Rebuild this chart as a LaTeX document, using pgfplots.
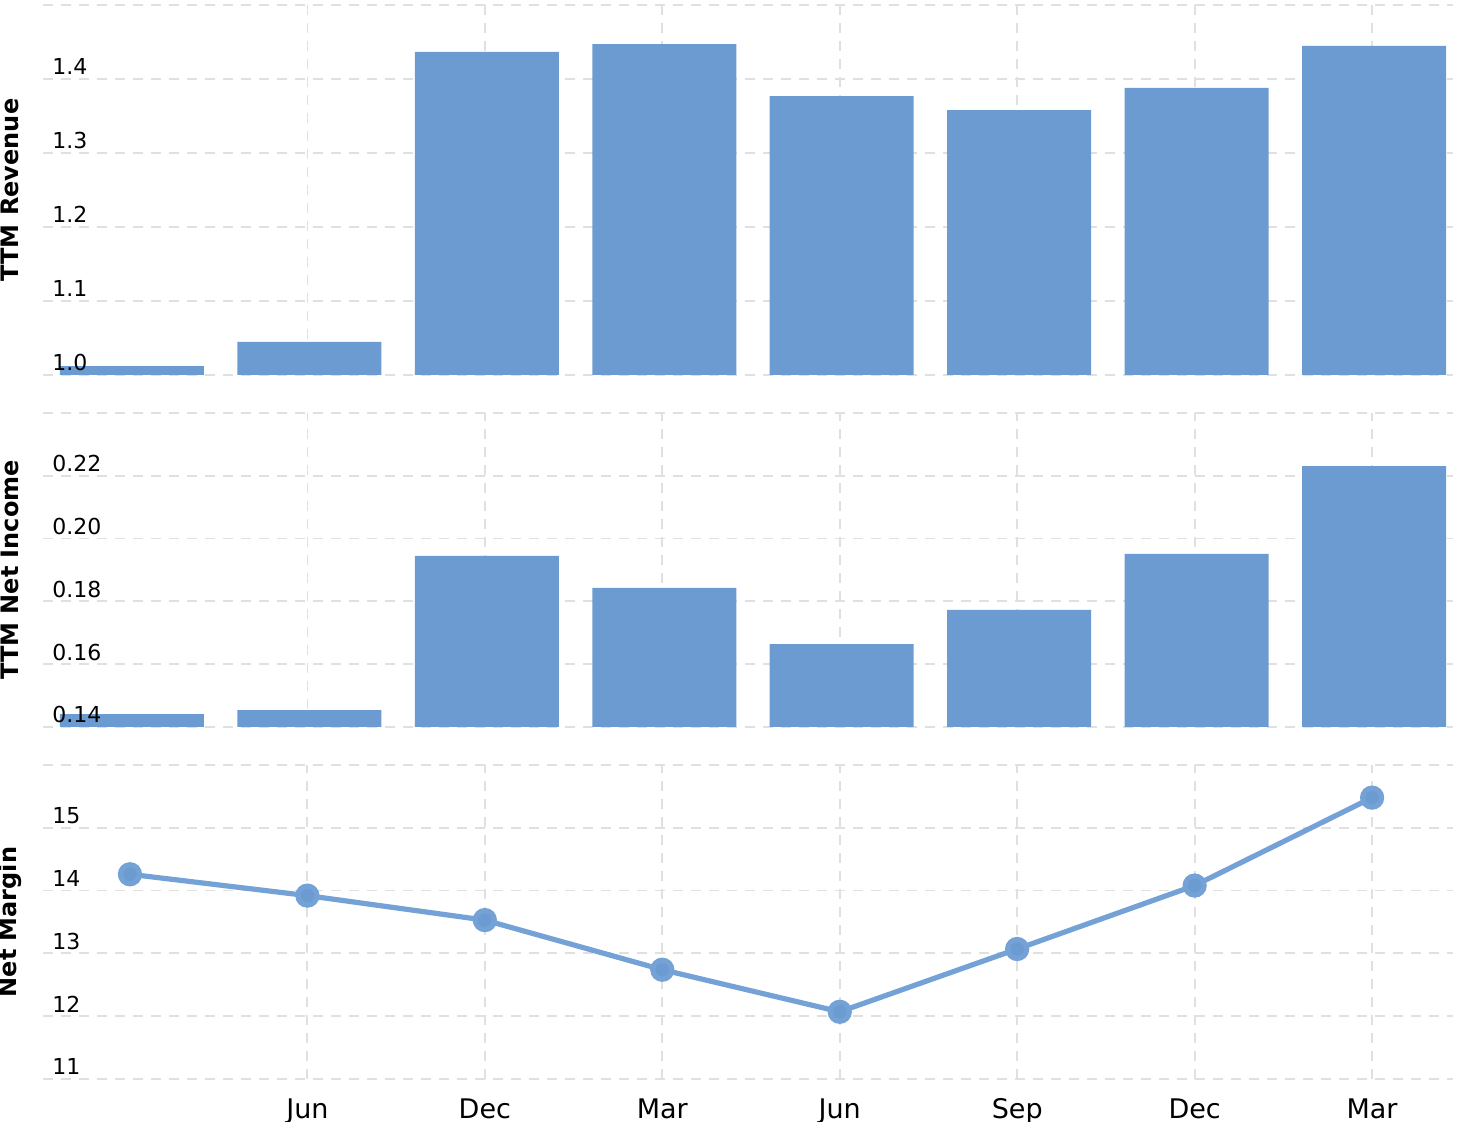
\documentclass[border=0pt]{standalone}
\usepackage{pgfplots}
\pgfplotsset{compat=1.18}
\usepackage{fontspec}
\setmainfont{DejaVu Sans}
\definecolor{barblue}{HTML}{6B9BD0}
\definecolor{lineblue}{HTML}{74A2D6}
\definecolor{gridgray}{HTML}{E0E0E0}
\pgfplotsset{
 panel/.style={
  scale only axis, width=705pt,
  xmin=-0.49, xmax=7.456,
  axis line style={draw=none},
  major tick length=0pt,
  xtick={1,...,7},
  grid=major,
  major grid style={gridgray, line width=0.9pt, dash pattern=on 5pt off 4pt},
  yticklabel style={anchor=base west, inner sep=0pt, xshift=4.5pt, yshift=2pt, font=\fontsize{11}{13}\selectfont},
  /pgf/number format/assume math mode=true,
  every axis y label/.style={at={(axis description cs:-0.0234,0.5)}, anchor=center, rotate=90, font=\fontsize{12}{14}\selectfont\bfseries},
 },
 bottomlabel/.style={extra description/.code={
   \node[anchor=base west, inner sep=0pt, xshift=4.5pt, yshift=2pt, font=\fontsize{11}{13}\selectfont] at (rel axis cs:0,0) {#1};}},
}
\begin{document}
\begin{tikzpicture}
% Top panel: TTM Revenue
\begin{axis}[panel, at={(21.5pt,373.5pt)}, anchor=south west, height=185pt,
  ymin=1, ymax=1.5, ytick={1,1.1,1.2,1.3,1.4,1.5},
  yticklabels={{},1.1,1.2,1.3,1.4,{}}, xticklabels={}, bottomlabel={1.0},
  ylabel={TTM Revenue}, ybar, bar width=72pt, bar shift=1pt]
\addplot[fill=barblue, draw=none] coordinates {
(0,1.012) (1,1.0446) (2,1.4365) (3,1.447) (4,1.377) (5,1.358) (6,1.388) (7,1.4446)};
\end{axis}
% Middle panel: TTM Net Income
\begin{axis}[panel, at={(21.5pt,197.5pt)}, anchor=south west, height=157pt,
  ymin=0.14, ymax=0.24, ytick={0.14,0.16,0.18,0.20,0.22,0.24},
  yticklabels={{},0.16,0.18,0.20,0.22,{}}, xticklabels={}, bottomlabel={0.14},
  ylabel={TTM Net Income}, ybar, bar width=72pt, bar shift=1pt]
\addplot[fill=barblue, draw=none] coordinates {
(0,0.1441) (1,0.1454) (2,0.1945) (3,0.1843) (4,0.1664) (5,0.1773) (6,0.1951) (7,0.2231)};
\end{axis}
% Bottom panel: Net Margin
\begin{axis}[panel, at={(21.5pt,21.5pt)}, anchor=south west, height=157pt,
  ymin=11, ymax=16, ytick={11,12,13,14,15,16},
  yticklabels={11,12,13,14,15,{}},
  xticklabels={Jun,Dec,Mar,Jun,Sep,Dec,Mar},
  xticklabel style={anchor=north, inner sep=0pt, yshift=-9.5pt, font=\fontsize{13.5}{15}\selectfont},
  ylabel={Net Margin}]
\addplot[lineblue, line width=2.6pt, mark=*, mark size=4.75pt, mark options={fill=barblue, draw=none}] coordinates {
(0,14.26) (1,13.92) (2,13.53) (3,12.74) (4,12.07) (5,13.07) (6,14.08) (7,15.48)};
\end{axis}
\pgfresetboundingbox
\path[use as bounding box] (0,0) rectangle (731pt,561pt);
\end{tikzpicture}
\end{document}
